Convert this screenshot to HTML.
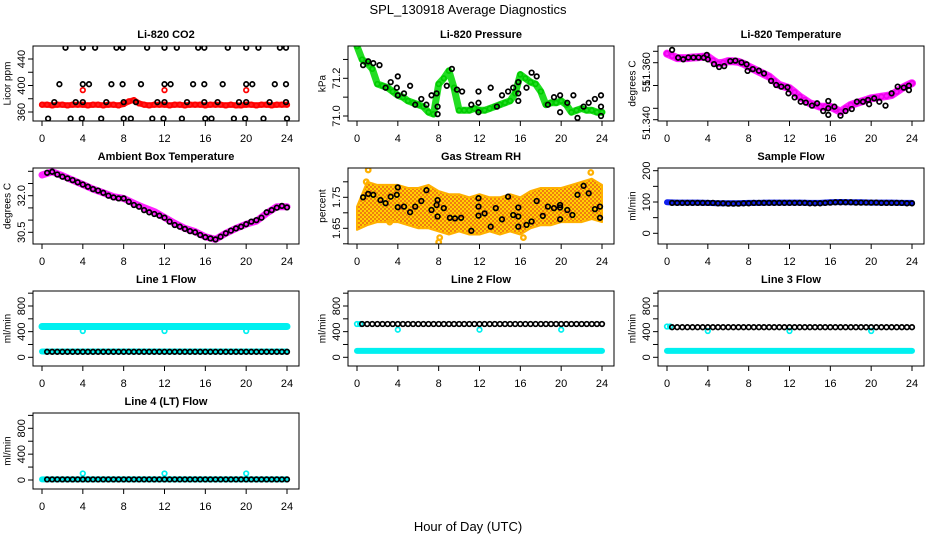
<!DOCTYPE html>
<html><head><meta charset="utf-8">
<style>
html,body{margin:0;padding:0;background:#fff;}
svg{display:block;font-family:"Liberation Sans",sans-serif;}
</style></head>
<body>
<svg id="chart" width="936" height="540" viewBox="0 0 936 540">
<defs>
<pattern id="rhpat" width="4" height="4" patternUnits="userSpaceOnUse">
<rect width="4" height="4" fill="#ffd200"/>
<circle cx="1" cy="1" r="0.9" fill="#e8401a"/>
<circle cx="3" cy="3" r="0.9" fill="#e8401a"/>
</pattern>
</defs>
<text x="468" y="14" text-anchor="middle" font-size="13">SPL_130918  Average Diagnostics</text>
<text x="468" y="531" text-anchor="middle" font-size="13">Hour of Day (UTC)</text>
</svg>
<script>
// shared time categories
const xTicks = [0,4,8,12,16,20,24];
const halfHours = [0,0.5,1,1.5,2,2.5,3,3.5,4,4.5,5,5.5,6,6.5,7,7.5,8,8.5,9,9.5,10,10.5,11,11.5,12,12.5,13,13.5,14,14.5,15,15.5,16,16.5,17,17.5,18,18.5,19,19.5,20,20.5,21,21.5,22,22.5,23,23.5,24];
const blackTimes = [0.5,1,1.5,2,2.5,3,3.5,4,4.5,5,5.5,6,6.5,7,7.5,8,8.5,9,9.5,10,10.5,11,11.5,12,12.5,13,13.5,14,14.5,15,15.5,16,16.5,17,17.5,18,18.5,19,19.5,20,20.5,21,21.5,22,22.5,23,23.5,24];
const hours = [0,1,2,3,4,5,6,7,8,9,10,11,12,13,14,15,16,17,18,19,20,21,22,23,24];

// CO2
const co2Band = [371,371,370,371,371,370,371,371,371,370,371,371,370,371,371,370,372,376,378,373,371,370,371,371,371,370,371,371,370,371,371,371,370,371,371,371,370,371,370,370,371,371,370,371,371,370,371,371,371];
const co2OutX = [4,12,20];
const co2OutY = [393,393,393];
const co2BlackX = [2.3,4.0,5.2,7.3,7.9,10.3,12.0,13.2,15.3,15.9,18.2,20.0,21.2,23.3,23.9, 1.7,4.0,4.6,6.8,7.9,9.7,12.0,12.6,14.8,15.9,17.7,20.0,20.6,22.8,23.9, 1.2,3.3,4.0,6.3,8.0,9.2,11.3,12.0,14.2,15.9,17.2,19.3,20.0,22.3,23.9, 0.6,2.8,3.9,5.8,8.0,8.7,10.8,11.9,13.7,16.0,16.6,18.8,19.9,21.7,24.0];
const co2BlackY = [457,457,457,457,457,457,457,457,457,457,457,457,457,457,457, 402,402,402,402,402,402,402,402,402,402,402,402,402,402,402, 375,375,375,375,375,375,375,375,375,375,375,375,375,375,375, 350,350,350,350,350,350,350,350,350,350,350,350,350,350,350];

// Pressure
const presBand = [71.37,71.30,71.28,71.25,71.17,71.16,71.15,71.13,71.11,71.10,71.08,71.07,71.06,71.05,71.02,71.01,71.17,71.20,71.24,71.15,71.03,71.03,71.03,71.04,71.03,71.03,71.04,71.05,71.06,71.07,71.08,71.12,71.22,71.20,71.18,71.17,71.13,71.06,71.07,71.07,71.08,71.06,71.02,71.03,71.04,71.03,71.03,71.02,71.02];
const presBlackX = [0.6,1.1,1.6,2.2,2.8,3.3,3.9,4.0,4.0,4.6,5.2,5.7,6.3,6.8,7.3,7.8,7.9,7.9,8.8,9.3,9.8,10.3,11.2,11.9,11.9,11.9,13.1,13.7,14.2,14.8,15.3,15.8,15.8,15.8,16.6,17.1,17.6,18.7,19.3,19.9,19.9,20.6,21.2,21.6,22.2,22.7,23.3,23.9,23.9,23.9];
const presBlackY = [71.27,71.29,71.28,71.27,71.15,71.18,71.15,71.21,71.11,71.12,71.16,71.06,71.09,71.06,71.11,71.12,71.05,71.01,71.16,71.25,71.14,71.13,71.06,71.07,71.02,71.13,71.15,71.05,71.11,71.13,71.15,71.18,71.12,71.08,71.15,71.23,71.21,71.06,71.10,71.11,71.02,71.07,71.11,70.99,71.05,71.07,71.09,71.11,71.05,71.00];

// Li-820 temperature
const tempBand = [51.3640,51.3630,51.3620,51.3620,51.3620,51.3623,51.3624,51.3626,51.3626,51.3610,51.3597,51.3600,51.3607,51.3606,51.3604,51.3595,51.3583,51.3572,51.3561,51.3550,51.3539,51.3520,51.3502,51.3495,51.3488,51.3470,51.3451,51.3437,51.3422,51.3415,51.3407,51.3407,51.3407,51.3396,51.3385,51.3400,51.3415,51.3422,51.3429,51.3436,51.3444,51.3447,51.3451,51.3454,51.3458,51.3473,51.3488,51.3500,51.3510];
const tempBlackX = [0.5,1.1,1.6,2.1,2.6,3.1,3.6,3.9,4.0,4.6,5.1,5.6,6.2,6.7,7.3,7.8,7.9,8.4,9.0,9.5,10.2,10.7,11.2,11.8,11.9,12.5,13.1,13.6,14.2,14.7,15.3,15.8,15.8,15.8,16.4,17.0,17.5,18.1,18.6,19.2,19.7,19.8,20.3,20.8,21.4,22.0,22.6,23.2,23.7,23.7];
const tempBlackY = [51.3656,51.3622,51.3615,51.3623,51.3623,51.3623,51.3622,51.3634,51.3615,51.3594,51.3581,51.3585,51.3607,51.3609,51.3601,51.3593,51.3564,51.3572,51.3565,51.3553,51.3520,51.3502,51.3495,51.3492,51.3466,51.3448,51.3429,51.3425,51.3412,51.3422,51.3388,51.3400,51.3432,51.3371,51.3407,51.3368,51.3388,51.3397,51.3429,51.3429,51.3437,51.3418,51.3444,51.3429,51.3412,51.3466,51.3495,51.3491,51.3480,51.3499];

// Ambient box temperature
const ambBand = [32.85,32.98,32.82,32.64,32.46,32.27,32.12,31.96,31.89,31.69,31.51,31.35,31.11,30.87,30.66,30.53,30.32,30.21,30.46,30.66,30.83,30.96,31.28,31.55,31.55];
const ambBlack = [32.94,32.98,32.87,32.78,32.71,32.64,32.55,32.46,32.37,32.27,32.21,32.12,32.00,31.93,31.89,31.89,31.75,31.62,31.55,31.41,31.32,31.25,31.18,31.10,30.94,30.80,30.73,30.64,30.55,30.50,30.39,30.30,30.25,30.21,30.32,30.46,30.57,30.66,30.73,30.83,30.94,31.00,31.10,31.32,31.41,31.51,31.58,31.52];

// Gas stream RH
const rhLow = [1.645,1.66,1.67,1.67,1.67,1.66,1.65,1.65,1.64,1.63,1.64,1.63,1.63,1.64,1.63,1.64,1.63,1.65,1.66,1.66,1.67,1.67,1.67,1.68,1.67];
const rhHigh = [1.72,1.80,1.79,1.79,1.79,1.78,1.78,1.79,1.77,1.76,1.76,1.75,1.76,1.75,1.75,1.76,1.75,1.77,1.78,1.78,1.78,1.79,1.80,1.81,1.79];
const rhOutX = [1.1,0.9,8.0,8.1,16.3,22.9,3.2];
const rhOutY = [1.838,1.80,1.605,1.62,1.62,1.83,1.67];
const rhBlackX = [0.6,1.1,1.6,2.3,2.8,3.3,3.9,4.0,4.0,4.6,5.2,5.7,6.3,6.8,7.3,7.8,7.9,7.9,8.5,9.1,9.6,10.2,11.2,11.9,11.9,11.9,12.5,13.1,13.6,14.2,14.8,15.3,15.8,15.8,15.8,16.6,17.1,17.6,18.2,18.7,19.3,19.9,19.9,19.9,20.6,21.1,21.6,22.2,22.7,23.3,23.8,23.8];
const rhBlackY = [1.750,1.761,1.758,1.741,1.731,1.752,1.758,1.782,1.718,1.720,1.702,1.720,1.738,1.773,1.709,1.725,1.741,1.688,1.715,1.684,1.682,1.684,1.642,1.747,1.720,1.691,1.698,1.655,1.715,1.679,1.752,1.693,1.688,1.717,1.655,1.661,1.672,1.738,1.690,1.720,1.715,1.725,1.679,1.717,1.709,1.693,1.758,1.787,1.763,1.712,1.720,1.684];

// Sample flow
const sampleBand = [99,98,98,98,97,96,96,96,97,97,98,98,98,98,97,97,99,100,99,99,98,98,98,97,97];
const sampleBlack = [97,97,97,97,97,97,97,97,97,96,96,95,95,95,96,96,97,97,97,97,97,97,97,97,97,97,97,96,96,96,97,98,99,99,99,99,98,98,98,98,98,97,97,97,97,97,96,96];

// Line flows
const line1Cyan = [480,480,480,480,480,480,480,480,480,480,480,480,480,480,480,480,480,480,480,480,480,480,480,480,480];
const line1CyanLow = [90,90,90,90,90,90,90,90,90,90,90,90,90,90,90,90,90,90,90,90,90,90,90,90,90];
const line1OutY = [410,410,410];
const line1Black = [85,85,85,85,85,85,85,85,85,85,85,85,85,85,85,85,85,85,85,85,85,85,85,85,85,85,85,85,85,85,85,85,85,85,85,85,85,85,85,85,85,85,85,85,85,85,85,85];
const line2Cyan = [100,100,100,100,100,100,100,100,100,100,100,100,100,100,100,100,100,100,100,100,100,100,100,100,100];
const line2OutY = [430,430,430];
const line2Black = [520,520,520,520,520,520,520,520,520,520,520,520,520,520,520,520,520,520,520,520,520,520,520,520,520,520,520,520,520,520,520,520,520,520,520,520,520,520,520,520,520,520,520,520,520,520,520,520];
const line3Cyan = [100,100,100,100,100,100,100,100,100,100,100,100,100,100,100,100,100,100,100,100,100,100,100,100,100];
const line3OutY = [410,410,410];
const line3Black = [470,470,470,470,470,470,470,470,470,470,470,470,470,470,470,470,470,470,470,470,470,470,470,470,470,470,470,470,470,470,470,470,470,470,470,470,470,470,470,470,470,470,470,470,470,470,470,470];
const line4Cyan = [10,10,10,10,10,10,10,10,10,10,10,10,10,10,10,10,10,10,10,10,10,10,10,10,10];
const line4OutY = [100,100,100];
const line4Black = [10,10,10,10,10,10,10,10,10,10,10,10,10,10,10,10,10,10,10,10,10,10,10,10,10,10,10,10,10,10,10,10,10,10,10,10,10,10,10,10,10,10,10,10,10,10,10,10];
const outX = [4,12,20];

const NS = 'http://www.w3.org/2000/svg';
const svg = document.getElementById('chart');
function mk(tag, attrs, parent){
  const e = document.createElementNS(NS, tag);
  for (const k in attrs) e.setAttribute(k, attrs[k]);
  (parent||svg).appendChild(e);
  return e;
}
const cols = [33, 348, 658];
const rows = [[46,121],[168,244],[291,366],[413,489]];

function makePanel(c, r, title, ytitle, v1, p1, v2, p2, yTicks, yLabels, name){
  const left = cols[c], right = left + 266, top = rows[r][0], bot = rows[r][1];
  const g = mk('g', {});
  
  
  const xs = h => left + 9 + h * 245 / 24;
  const ys = v => p1 + (v - v1) * (p2 - p1) / (v2 - v1);
  const plot = mk('g', {}, g);
  
  
  const clip = 'clip-' + name;
  const cp = mk('clipPath', {id: clip}, g);
  mk('rect', {x: left, y: top, width: right-left, height: bot-top}, cp);
  plot.setAttribute('clip-path', 'url(#' + clip + ')');
  const frame = mk('rect', {x: left, y: top, width: right-left, height: bot-top, fill: 'none', stroke: '#000', 'stroke-width': 1}, g);
  
  
  const t = mk('text', {x: (left+right)/2, y: top - 8, 'text-anchor': 'middle', 'font-size': 11, 'font-weight': 'bold'}, g);
  t.textContent = title;
  
  
  const xa = mk('g', {}, g);
  
  
  mk('line', {x1: xs(0), x2: xs(24), y1: bot, y2: bot, stroke: '#000'}, xa);
  xTicks.forEach(h => {
    mk('line', {x1: xs(h), x2: xs(h), y1: bot, y2: bot + 5, stroke: '#000'}, xa);
    const l = mk('text', {x: xs(h), y: bot + 21, 'text-anchor': 'middle', 'font-size': 11}, xa);
    l.textContent = h;
    
    
  });
  const ya = mk('g', {}, g);
  
  
  mk('line', {x1: left, x2: left, y1: ys(yTicks[0]), y2: ys(yTicks[yTicks.length-1]), stroke: '#000'}, ya);
  yTicks.forEach(v => mk('line', {x1: left - 5, x2: left, y1: ys(v), y2: ys(v), stroke: '#000'}, ya));
  yLabels.forEach(lb => {
    const py = lb.py !== undefined ? lb.py : ys(lb.v);
    const l = mk('text', {x: left - 11, y: py, 'text-anchor': 'middle', 'font-size': 11, transform: 'rotate(-90 ' + (left-11) + ' ' + py + ')', 'dominant-baseline': 'middle'}, ya);
    l.textContent = lb.t;
    
    
  });
  const yt = mk('text', {x: left - 25, y: (top+bot)/2, 'text-anchor': 'middle', 'font-size': 10, transform: 'rotate(-90 ' + (left-25) + ' ' + ((top+bot)/2) + ')', 'dominant-baseline': 'middle'}, g);
  yt.textContent = ytitle;
  
  
  return {xs, ys, plot};
}
function band(P, times, vals, color, w, name){
  const pts = times.map((h,i) => P.xs(h).toFixed(1) + ',' + P.ys(vals[i]).toFixed(1)).join(' ');
  const pl = mk('polyline', {points: pts, fill: 'none', stroke: color, 'stroke-width': w, 'stroke-linejoin': 'round', 'stroke-linecap': 'round'}, P.plot);
  
  
}
function pts(P, times, vals, color, name, r, sw){
  const g = mk('g', {}, P.plot);
  
  
  times.forEach((h,i) => {
    const c = mk('circle', {cx: P.xs(h).toFixed(1), cy: P.ys(vals[i]).toFixed(1), r: r||2.3, fill: 'none', stroke: color, 'stroke-width': sw||1.7}, g);
    
    
  });
}
function area(P, times, lo, hi, color, name){
  const a = times.map((h,i) => P.xs(h).toFixed(1) + ',' + P.ys(hi[i]).toFixed(1));
  const b = times.map((h,i) => P.xs(h).toFixed(1) + ',' + P.ys(lo[i]).toFixed(1)).reverse();
  const pg = mk('polygon', {points: a.concat(b).join(' '), fill: color, stroke: '#ffb000', 'stroke-width': 2, 'stroke-linejoin': 'round'}, P.plot);
  
  
}

// Panel 1 CO2
let P = makePanel(0,0,'Li-820 CO2','Licor ppm',360,112,440,59,[360,380,400,420,440],[{v:360,t:'360'},{v:400,t:'400'},{v:440,t:'440'}],'co2');
band(P, halfHours, co2Band, '#ff2020', 6, 'co2-band');
pts(P, halfHours, co2Band, '#ff0000', 'co2-red');
pts(P, co2OutX, co2OutY, '#ff0000', 'co2-outliers');
pts(P, co2BlackX, co2BlackY, '#000', 'co2-black');

// Panel 2 Pressure
P = makePanel(1,0,'Li-820 Pressure','kPa',71.0,116,71.2,78.3,[71.0,71.1,71.2,71.3],[{v:71.0,t:'71.0'},{v:71.2,t:'71.2'}],'pressure');
band(P, halfHours, presBand, '#22dd22', 7, 'pressure-band');
pts(P, halfHours, presBand, '#00cc00', 'pressure-green');
pts(P, presBlackX, presBlackY, '#000', 'pressure-black');

// Panel 3 Li-820 temperature
P = makePanel(2,0,'Li-820 Temperature','degrees C',51.34,108.3,51.36,62.7,[51.335,51.34,51.35,51.36,51.365],[{py:123,t:'51.340'},{py:86,t:'51'},{py:69,t:'51.360'}],'li820-temp');
band(P, halfHours, tempBand, '#ff22ff', 8, 'li820-temp-band');
pts(P, halfHours, tempBand, '#ee00ee', 'li820-temp-magenta');
pts(P, tempBlackX, tempBlackY, '#000', 'li820-temp-black');

// Panel 4 Ambient
P = makePanel(0,1,'Ambient Box Temperature','degrees C',30.5,232.3,32.0,195.7,[30.5,31.0,31.5,32.0,32.5,33.0],[{v:30.5,t:'30.5'},{v:32.0,t:'32.0'}],'ambient');
band(P, hours, ambBand, '#ff22ff', 7, 'ambient-band');
pts(P, blackTimes, ambBlack, '#000', 'ambient-black');

// Panel 5 RH
P = makePanel(1,1,'Gas Stream RH','percent',1.65,228.3,1.75,197.3,[1.60,1.65,1.70,1.75,1.80],[{v:1.65,t:'1.65'},{v:1.75,t:'1.75'}],'rh');
area(P, hours, rhLow, rhHigh, 'url(#rhpat)', 'rh-cloud');
pts(P, rhOutX, rhOutY, '#ffb000', 'rh-outliers', 2.3, 2.2);
pts(P, rhBlackX, rhBlackY, '#000', 'rh-black');

// Panel 6 Sample flow
P = makePanel(2,1,'Sample Flow','ml/min',0,233.3,200,170.7,[0,50,100,150,200],[{v:0,t:'0'},{v:100,t:'100'},{v:200,t:'200'}],'sample-flow');
band(P, hours, sampleBand, '#1020ee', 6, 'sample-flow-band');
pts(P, blackTimes, sampleBlack, '#000', 'sample-flow-black');

const flowTicks = [0,200,400,600,800,1000];
const flowLabels = [{v:0,t:'0'},{v:400,t:'400'},{v:800,t:'800'}];
const cyan = '#00f0f0';
P = makePanel(0,2,'Line 1 Flow','ml/min',0,357.3,800,306,flowTicks,flowLabels,'line1');
band(P, hours, line1Cyan, cyan, 7, 'line1-cyan-high');
band(P, hours, line1CyanLow, cyan, 6, 'line1-cyan-low');
pts(P, outX, line1OutY, cyan, 'line1-outliers');
pts(P, blackTimes, line1Black, '#000', 'line1-black');
P = makePanel(1,2,'Line 2 Flow','ml/min',0,357.3,800,306,flowTicks,flowLabels,'line2');
band(P, hours, line2Cyan, cyan, 6, 'line2-cyan');
pts(P, [0,0.3], [520,520], cyan, 'line2-cyan-start');
pts(P, outX, line2OutY, cyan, 'line2-outliers');
pts(P, blackTimes, line2Black, '#000', 'line2-black');
P = makePanel(2,2,'Line 3 Flow','ml/min',0,357.3,800,306,flowTicks,flowLabels,'line3');
band(P, hours, line3Cyan, cyan, 6, 'line3-cyan');
pts(P, [0,0.3], [480,480], cyan, 'line3-cyan-start');
pts(P, outX, line3OutY, cyan, 'line3-outliers');
pts(P, blackTimes, line3Black, '#000', 'line3-black');
P = makePanel(0,3,'Line 4 (LT) Flow','ml/min',0,480,800,428.3,flowTicks,flowLabels,'line4');
band(P, hours, line4Cyan, cyan, 6, 'line4-cyan');
pts(P, outX, line4OutY, cyan, 'line4-outliers');
pts(P, blackTimes, line4Black, '#000', 'line4-black');
</script>
</body></html>
